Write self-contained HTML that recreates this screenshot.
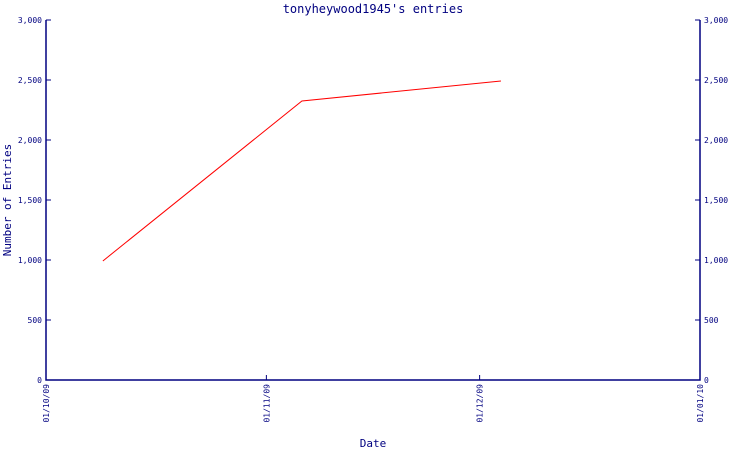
<!DOCTYPE html>
<html><head><meta charset="utf-8"><style>
body{margin:0;background:#fff;width:750px;height:450px;overflow:hidden}
text{font-family:"DejaVu Sans Mono","Liberation Mono",monospace;fill:#000080}
</style></head><body>
<svg id="chart" width="750" height="450" xmlns="http://www.w3.org/2000/svg">
<text x="373" y="13" text-anchor="middle" font-size="12">tonyheywood1945's entries</text>
<text x="373" y="447" text-anchor="middle" font-size="11">Date</text>
<text transform="translate(11,200) rotate(-90)" text-anchor="middle" font-size="11">Number of Entries</text>
<g id="axes"></g>
</svg>
<script>
const xTickLabels=["01/10/09","01/11/09","01/12/09","01/01/10"];
const xTickDates=["2009-10-01","2009-11-01","2009-12-01","2010-01-01"];
const yTicks=[0,500,1000,1500,2000,2500,3000];
const yTickLabels=["0","500","1,000","1,500","2,000","2,500","3,000"];
const pointDates=["2009-10-09","2009-11-06","2009-12-04"];
const entryCounts=[992,2325,2492];
const L=46,R=700,T=20,B=380;
const d0=Date.parse("2009-10-01"),d1=Date.parse("2010-01-01");
const xs=d=>L+(Date.parse(d)-d0)/(d1-d0)*(R-L);
const ys=v=>B-v/3000*(B-T);
const NS="http://www.w3.org/2000/svg",g=document.getElementById('axes');
function mk(t,a){const e=document.createElementNS(NS,t);for(const k in a)e.setAttribute(k,a[k]);g.appendChild(e);return e;}
let e;
e=mk('path',{d:`M${L} ${T}V${B}H${R}V${T}`,fill:'none',stroke:'#000080','stroke-width':1.5});


yTicks.forEach((v,i)=>{const y=ys(v);
e=mk('path',{d:`M${L} ${y}h5M${R} ${y}h-5`,stroke:'#000080'});


e=mk('text',{x:L-4,y:y+3,'text-anchor':'end','font-size':8});e.textContent=yTickLabels[i];


e=mk('text',{x:R+4,y:y+3,'font-size':8});e.textContent=yTickLabels[i];


});
xTickDates.forEach((d,i)=>{const x=xs(d);
e=mk('path',{d:`M${x} ${B}v-5`,stroke:'#000080'});


e=mk('text',{transform:`translate(${x+3},${B+4}) rotate(-90)`,'text-anchor':'end','font-size':8});e.textContent=xTickLabels[i];


});
e=mk('polyline',{points:pointDates.map((d,i)=>xs(d)+','+ys(entryCounts[i])).join(' '),fill:'none',stroke:'#ff0000','stroke-width':1});


</script>
</body></html>
